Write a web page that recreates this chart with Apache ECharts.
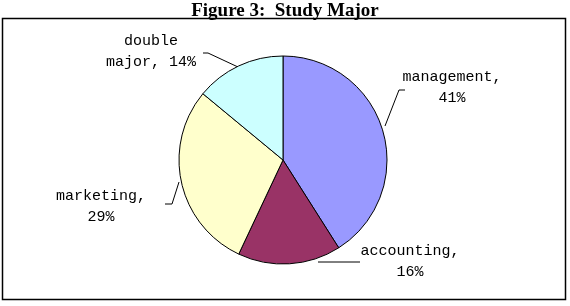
<!DOCTYPE html>
<html>
<head>
<meta charset="utf-8">
<script src="https://cdn.jsdelivr.net/npm/echarts@6/dist/echarts.min.js"></script>
<style>
html,body{margin:0;padding:0;background:#fff;}
#chart{width:570px;height:306px;}
</style>
</head>
<body>
<div id="chart"></div>
<script>
var titleText = 'Figure 3:  Study Major';
var categories = ['management', 'accounting', 'marketing', 'double major'];
var values = [41, 16, 29, 14];
var colors = ['#9999FF', '#993366', '#FFFFCC', '#CCFFFF'];

// label placement (label centre, leader line points) per slice
var labelPos = [
  {x: 452, y: 88, line: [[385, 126], [399, 90], [405, 90]]},
  {x: 410, y: 262, line: [[318, 262], [340, 262], [360, 262]]},
  {x: 101, y: 207, line: [[179, 182], [172, 204], [165, 204]]},
  {x: 151, y: 52, line: [[238, 67], [208, 53], [203, 53]]}
];

var chart = echarts.init(document.getElementById('chart'), null, {renderer: 'canvas'});
var data = categories.map(function (c, i) {
  return {name: c, value: values[i], itemStyle: {color: colors[i]}};
});

chart.setOption({
  animation: false,
  backgroundColor: '#ffffff',
  title: {
    text: titleText,
    left: 'center',
    top: -3,
    textStyle: {fontFamily: 'Liberation Serif', fontWeight: 'bold', fontSize: 19, color: '#000'}
  },
  graphic: [{
    type: 'rect',
    shape: {x: 2.5, y: 18.5, width: 563, height: 281},
    style: {fill: 'none', stroke: '#000', lineWidth: 1.5},
    silent: true,
    z: -1
  }],
  series: [{
    type: 'pie',
    center: [283, 160],
    radius: 104,
    startAngle: 90,
    clockwise: true,
    data: data,
    itemStyle: {borderColor: '#000', borderWidth: 1},
    label: {
      show: true,
      position: 'outside',
      fontFamily: 'Liberation Mono',
      fontSize: 15,
      lineHeight: 21,
      color: '#000',
      align: 'center',
      formatter: function (p) {
        var n = p.name;
        var pct = Math.round(p.percent) + '%';
        if (n.indexOf(' ') >= 0) {
          return n.replace(' ', '\n') + ', ' + pct;
        }
        return n + ',\n' + pct;
      }
    },
    labelLine: {show: true, lineStyle: {color: '#000', width: 1}, length: 10, length2: 10},
    labelLayout: function (params) {
      var lp = labelPos[params.dataIndex];
      return {
        x: lp.x,
        y: lp.y,
        align: 'center',
        verticalAlign: 'middle',
        labelLinePoints: lp.line
      };
    },
    emphasis: {disabled: true}
  }]
});
</script>
</body>
</html>
